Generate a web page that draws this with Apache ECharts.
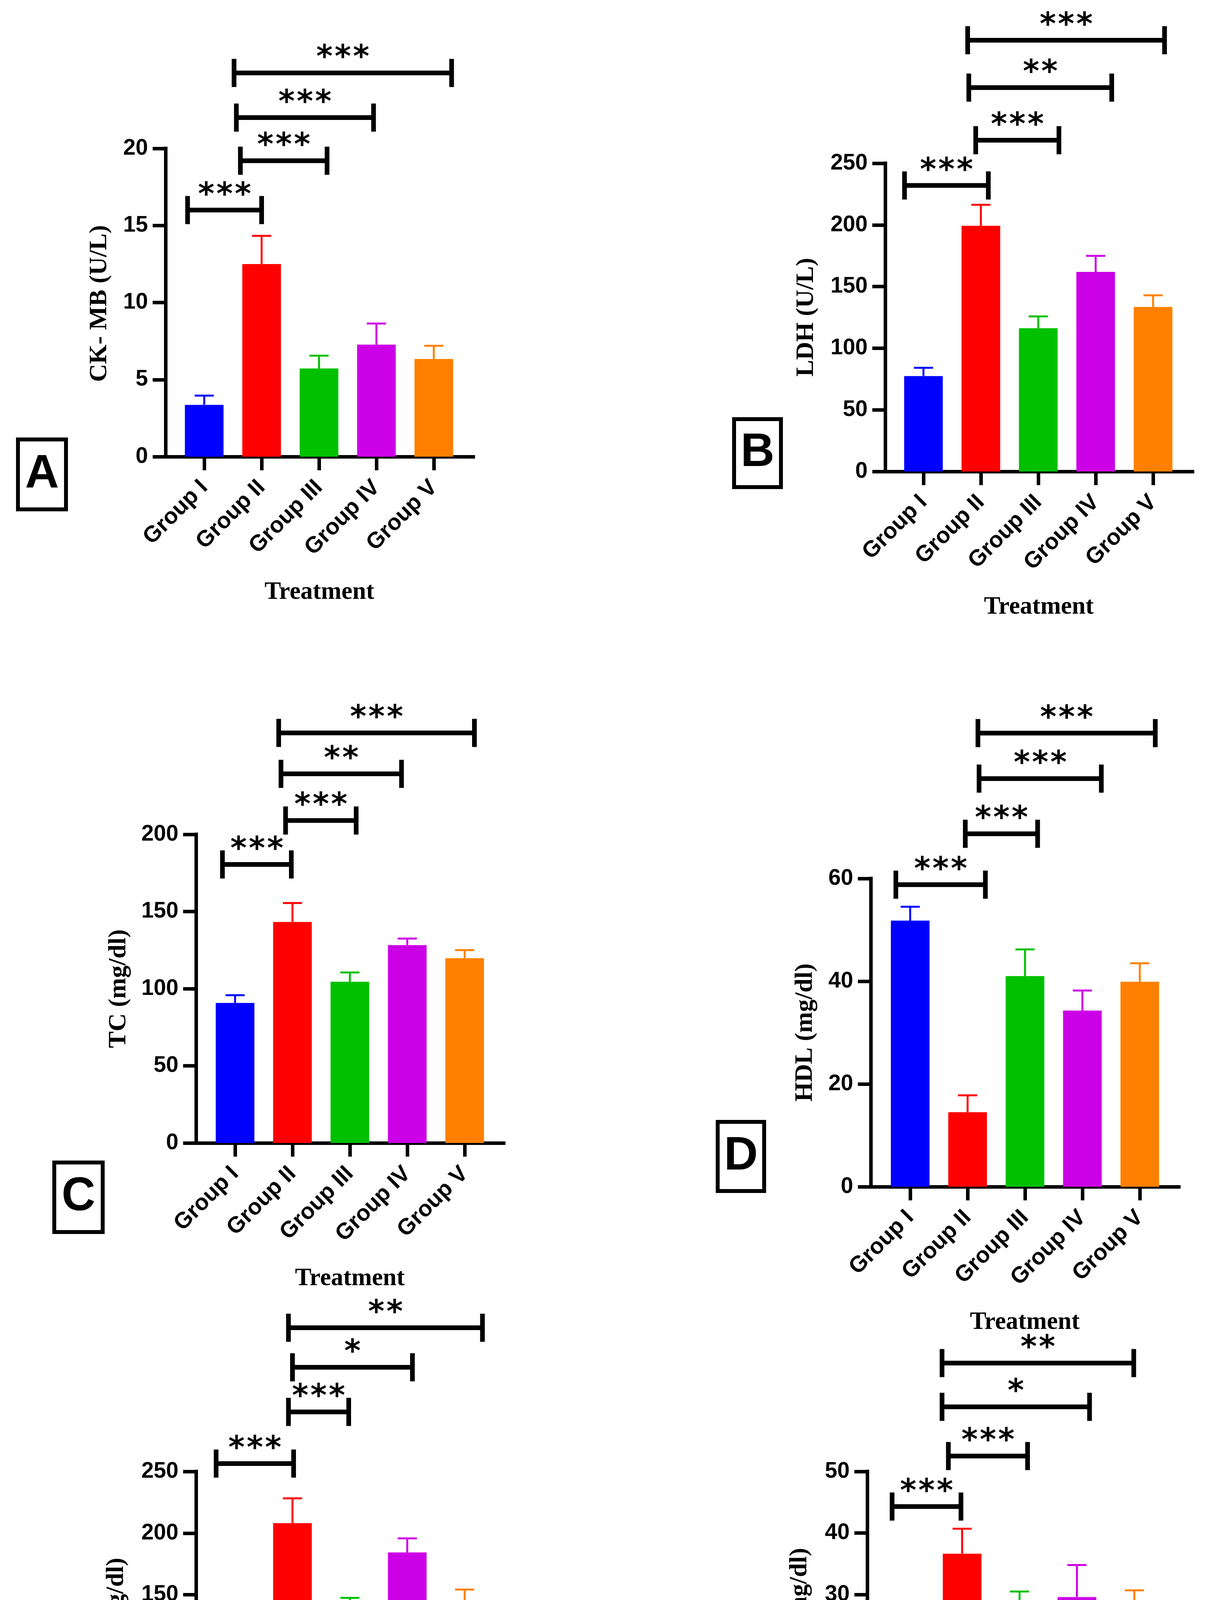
<!DOCTYPE html>
<html>
<head>
<meta charset="utf-8">
<script src="https://cdn.jsdelivr.net/npm/echarts@6/dist/echarts.min.js"></script>
<style>
html, body { margin: 0; padding: 0; background: #fff; }
#chart { width: 3086px; height: 4958px; }
</style>
</head>
<body>
<div id="chart"></div>
<script>
//---------------------------Data---------------------------
let groups = ['Group I', 'Group II', 'Group III', 'Group IV', 'Group V'];
let barColors = ['#0000FF', '#FF0000', '#00C000', '#CC00E6', '#FF8000'];

let ckmbMean = [3.36, 12.5, 5.72, 7.27, 6.34];
let ckmbSem = [0.6, 1.83, 0.83, 1.37, 0.85];
let ldhMean = [77.4, 199.3, 116.2, 161.9, 133.5];
let ldhSem = [6.7, 17.0, 9.6, 13.0, 9.4];
let tcMean = [90.75, 143.25, 104.5, 128.25, 119.75];
let tcSem = [5.0, 12.25, 6.0, 4.25, 5.25];
let hdlMean = [51.8, 14.5, 41.0, 34.3, 39.9];
let hdlSem = [2.7, 3.3, 5.2, 3.9, 3.6];
let ldlMean = [108.6, 208.1, 134.4, 184.3, 141.1];
let ldlSem = [7.0, 20.1, 13.1, 11.4, 13.1];
let vldlMean = [19.7, 36.65, 26.3, 29.6, 25.4];
let vldlSem = [1.0, 4.05, 4.2, 5.2, 5.3];

//significance brackets: [from group, to group, height]
let ckmbBrackets = [[-0.29, 1.0, 16.0], [0.63, 2.14, 19.2], [0.56, 2.95, 22.0], [0.52, 4.31, 24.9]];
let ckmbStars = ['***', '***', '***', '***'];
let ldhBrackets = [[-0.33, 1.13, 232], [0.91, 2.36, 268.7], [0.79, 3.28, 311.4], [0.77, 4.2, 349.8]];
let ldhStars = ['***', '***', '**', '***'];
let tcBrackets = [[-0.22, 0.98, 180.5], [0.88, 2.11, 209], [0.80, 2.9, 239.25], [0.76, 4.17, 265.75]];
let tcStars = ['***', '***', '**', '***'];
let hdlBrackets = [[-0.25, 1.31, 58.8], [0.96, 2.22, 68.7], [1.2, 3.33, 79.45], [1.18, 4.27, 88.3]];
let hdlStars = ['***', '***', '***', '***'];
let ldlBrackets = [[-0.33, 1.02, 256.4], [0.93, 1.98, 298.3], [1.0, 3.09, 334.5], [0.93, 4.31, 366.6]];
let ldlStars = ['***', '***', '*', '**'];
let vldlBrackets = [[-0.22, 0.98, 44.3], [0.76, 2.14, 52.5], [0.65, 3.22, 60.5], [0.65, 3.99, 67.6]];
let vldlStars = ['***', '***', '*', '**'];

//y axes
let yNames = ['CK- MB (U/L)', 'LDH (U/L)', 'TC (mg/dl)', 'HDL (mg/dl)', 'LDL (mg/dl)', 'VLDL (mg/dl)'];
let yMax = [20, 250, 200, 60, 250, 50];
let yStep = [5, 50, 50, 20, 50, 10];
let panelLetters = ['A', 'B', 'C', 'D', 'E', 'F'];

//---------------------------Layout---------------------------
//outer = axis frame [left, top, width, height], innerLeft = start of bar band
//yTitle = centre of the rotated y title, box = letter frame
let layout = [
    {outer: [424, 380, 788, 789], innerLeft: 449.5, yTitle: [255, 777], box: [41, 1120, 133, 189]},
    {outer: [2267, 418, 787, 789], innerLeft: 2291.5, yTitle: [2065, 812], box: [1875, 1068, 130, 184]},
    {outer: [502, 2136, 788, 790], innerLeft: 528.5, yTitle: [304, 2531], box: [134, 2971, 134, 188]},
    {outer: [2230, 2249, 789, 789], innerLeft: 2257.5, yTitle: [2062, 2643], box: [1833, 2867, 129, 187]},
    {outer: [502, 3767, 788, 789], innerLeft: 528.5, yTitle: [298, 4161], box: [109, 4545, 129, 189]},
    {outer: [2221, 3767, 784, 788], innerLeft: 2243.5, yTitle: [2048, 4159], box: [1893, 4501, 119, 190]}
];

let means = [ckmbMean, ldhMean, tcMean, hdlMean, ldlMean, vldlMean];
let sems = [ckmbSem, ldhSem, tcSem, hdlSem, ldlSem, vldlSem];
let brackets = [ckmbBrackets, ldhBrackets, tcBrackets, hdlBrackets, ldlBrackets, vldlBrackets];
let stars = [ckmbStars, ldhStars, tcStars, hdlStars, ldlStars, vldlStars];

let chart = echarts.init(document.getElementById('chart'), null, {renderer: 'canvas'});

function renderErr(params, api) {
    let base = api.coord([api.value(0), api.value(1)]);
    let top = api.coord([api.value(0), api.value(1) + api.value(2)]);
    let color = barColors[params.dataIndex];
    return {
        type: 'group',
        children: [
            {type: 'line', shape: {x1: base[0], y1: base[1], x2: top[0], y2: top[1]}, style: {stroke: color, lineWidth: 5}},
            {type: 'line', shape: {x1: top[0] - 24.5, y1: top[1], x2: top[0] + 24.5, y2: top[1]}, style: {stroke: color, lineWidth: 5}}
        ]
    };
}

function bracketRenderer(starList) {
    return function (params, api) {
        let a = api.coord([api.value(0), api.value(2)]);
        let b = api.coord([api.value(1), api.value(2)]);
        let s = {stroke: '#000', lineWidth: 12};
        let kids = [
            {type: 'line', shape: {x1: a[0], y1: a[1], x2: b[0], y2: b[1]}, style: s},
            {type: 'line', shape: {x1: a[0], y1: a[1] - 36, x2: a[0], y2: a[1] + 36}, style: s},
            {type: 'line', shape: {x1: b[0], y1: b[1] - 36, x2: b[0], y2: b[1] + 36}, style: s}
        ];
        //one glyph per star, fixed pitch
        let n = starList[params.dataIndex].length;
        let mid = (a[0] + b[0]) / 2;
        for (let i = 0; i < n; i++) {
            kids.push({type: 'text', style: {
                text: '*', x: mid + (i - (n - 1) / 2) * 47, y: a[1] - 36,
                align: 'center', verticalAlign: 'middle',
                font: 'bold 80px "DejaVu Sans"', fill: '#000'
            }});
        }
        return {type: 'group', children: kids};
    };
}

let option = {
    animation: false,
    backgroundColor: '#fff',
    grid: [], xAxis: [], yAxis: [], series: [], graphic: []
};

for (let k = 0; k < 6; k++) {
    let L = layout[k];
    let o = L.outer;
    //outer frame grid
    option.grid.push({left: o[0], top: o[1], width: o[2], height: o[3]});
    //bar band grid
    option.grid.push({left: L.innerLeft, top: o[1], width: 735, height: o[3]});

    option.xAxis.push({
        type: 'value', gridIndex: 2 * k, min: 0, max: 1,
        axisLine: {show: true, lineStyle: {color: '#000', width: 9, cap: 'square'}},
        axisTick: {show: false}, axisLabel: {show: false}, splitLine: {show: false},
        name: 'Treatment', nameLocation: 'middle', nameGap: 316,
        nameTextStyle: {fontFamily: 'Liberation Serif', fontWeight: 'bold', fontSize: 63, color: '#000'}
    });
    option.xAxis.push({
        type: 'category', gridIndex: 2 * k + 1, data: groups,
        axisLine: {show: false},
        axisTick: {show: true, alignWithLabel: true, length: 35, lineStyle: {color: '#000', width: 9}},
        axisLabel: {rotate: 45, margin: 70, fontFamily: 'Liberation Sans', fontWeight: 'bold', fontSize: 58, color: '#000'},
        splitLine: {show: false}
    });
    option.xAxis.push({type: 'value', gridIndex: 2 * k + 1, min: -0.5, max: 4.5, show: false});

    option.yAxis.push({
        type: 'value', gridIndex: 2 * k, min: 0, max: yMax[k], interval: yStep[k],
        axisLine: {show: true, lineStyle: {color: '#000', width: 9, cap: 'square'}},
        axisTick: {show: true, length: 33, lineStyle: {color: '#000', width: 9}},
        axisLabel: {margin: 45, fontFamily: 'Liberation Sans', fontWeight: 'bold', fontSize: 57, color: '#000'},
        splitLine: {show: false}
    });
    option.yAxis.push({type: 'value', gridIndex: 2 * k + 1, min: 0, max: yMax[k], show: false});

    option.series.push({
        type: 'bar', xAxisIndex: 3 * k + 1, yAxisIndex: 2 * k + 1, barWidth: 99,
        data: means[k].map(function (v, i) { return {value: v, itemStyle: {color: barColors[i]}}; })
    });
    option.series.push({
        type: 'custom', xAxisIndex: 3 * k + 1, yAxisIndex: 2 * k + 1,
        renderItem: renderErr, z: 3,
        data: means[k].map(function (v, i) { return [i, v, sems[k][i]]; })
    });
    option.series.push({
        type: 'custom', xAxisIndex: 3 * k + 2, yAxisIndex: 2 * k + 1,
        renderItem: bracketRenderer(stars[k]), clip: false, z: 4,
        encode: {x: [0, 1], y: 2},
        data: brackets[k]
    });

    //y title
    option.graphic.push({
        type: 'text', x: L.yTitle[0], y: L.yTitle[1], rotation: Math.PI / 2,
        style: {text: yNames[k], align: 'center', verticalAlign: 'middle',
            font: 'bold 64px "Liberation Serif"', fill: '#000'}
    });

    //panel letter box
    let b = L.box;
    option.graphic.push({
        type: 'rect', x: b[0] + 5, y: b[1] + 5,
        shape: {x: 0, y: 0, width: b[2] - 10, height: b[3] - 10},
        style: {fill: 'none', stroke: '#000', lineWidth: 10}
    });
    option.graphic.push({
        type: 'text', x: b[0] + b[2] / 2, y: b[1] + b[3] / 2,
        style: {text: panelLetters[k], align: 'center', verticalAlign: 'middle',
            font: 'bold 120px "Liberation Sans"', fill: '#000'}
    });
}

chart.setOption(option);
</script>
</body>
</html>
